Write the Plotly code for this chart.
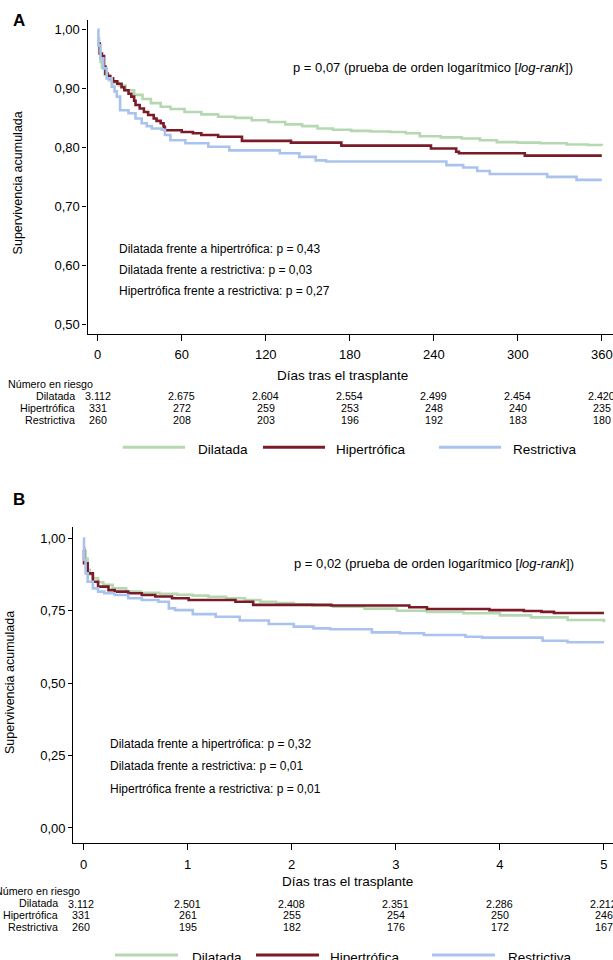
import plotly.graph_objects as go

# ---------------- DATA ----------------
series_names = ["Dilatada", "Hipertrófica", "Restrictiva"]
series_colors = ["#b5d8b0", "#7a1b27", "#a9c3ee"]

# Panel A (days, 0-360)
dil_a_days = [0, 1, 2, 3, 5, 8, 11, 15, 20, 26, 32, 38, 45, 52, 62, 74, 86, 98, 110, 122, 134, 146, 157, 168,
              181, 195, 209, 220, 230, 245, 260, 273, 285, 300, 316, 335, 350, 360]
dil_a_surv = [0.985, 0.96, 0.945, 0.935, 0.923, 0.914, 0.909, 0.905, 0.897, 0.889, 0.882, 0.875, 0.869, 0.865,
              0.860, 0.856, 0.852, 0.850, 0.846, 0.843, 0.839, 0.836, 0.832, 0.830, 0.828, 0.827, 0.826, 0.824,
              0.819, 0.817, 0.815, 0.812, 0.809, 0.808, 0.807, 0.805, 0.804, 0.803]
hip_a_days = [0, 1.5, 3, 4.5, 5.5, 7, 9, 11, 14, 17, 19, 22, 24, 26, 27, 30, 33, 36, 40, 42, 45, 47, 48, 60, 68,
              74, 86, 103, 138, 174, 238, 256, 258, 305, 360]
hip_a_surv = [0.976, 0.959, 0.955, 0.937, 0.925, 0.921, 0.917, 0.912, 0.908, 0.902, 0.897, 0.891, 0.886, 0.879,
              0.872, 0.866, 0.860, 0.855, 0.849, 0.845, 0.841, 0.835, 0.829, 0.826, 0.824, 0.821, 0.818, 0.811,
              0.808, 0.803, 0.798, 0.7925, 0.790, 0.786, 0.786]
res_a_days = [0, 0.5, 2, 4, 6.4, 10, 12, 13.6, 16, 22, 27, 31.4, 35, 38.6, 45.7, 48, 51.9, 62.6, 79, 94, 130, 144,
              155.7, 163, 249, 261, 271, 280, 321, 342, 360]
res_a_surv = [1.0, 0.973, 0.951, 0.934, 0.917, 0.903, 0.895, 0.886, 0.863, 0.858, 0.849, 0.841, 0.836, 0.832,
              0.830, 0.821, 0.812, 0.807, 0.801, 0.795, 0.790, 0.784, 0.778, 0.776, 0.770, 0.766, 0.760, 0.755,
              0.750, 0.745, 0.745]

# Panel B (years, 0-5)
dil_b_years = [0, 0.01, 0.02, 0.04, 0.06, 0.09, 0.14, 0.19, 0.28, 0.41, 0.55, 0.73, 0.9, 1.05, 1.2, 1.37, 1.55,
               1.70, 1.85, 2.02, 2.2, 2.4, 2.7, 3.01, 3.3, 3.65, 4.0, 4.3, 4.65, 5.0]
dil_b_surv = [0.965, 0.955, 0.93, 0.891, 0.875, 0.862, 0.848, 0.839, 0.827, 0.816, 0.812, 0.808, 0.805, 0.802,
              0.798, 0.793, 0.787, 0.781, 0.776, 0.772, 0.768, 0.764, 0.757, 0.750, 0.746, 0.741, 0.734, 0.727,
              0.718, 0.710]
hip_b_years = [0, 0.005, 0.04, 0.09, 0.14, 0.24, 0.30, 0.43, 0.56, 0.69, 0.85, 1.01, 1.46, 1.63, 2.38, 3.13, 3.3,
               3.9, 4.23, 4.4, 4.52, 5.0]
hip_b_surv = [0.96, 0.914, 0.879, 0.850, 0.833, 0.821, 0.816, 0.810, 0.804, 0.799, 0.793, 0.787, 0.781, 0.770,
              0.768, 0.762, 0.756, 0.752, 0.749, 0.746, 0.742, 0.742]
res_b_years = [0, 0.005, 0.02, 0.04, 0.09, 0.14, 0.20, 0.30, 0.43, 0.56, 0.72, 0.82, 0.88, 1.05, 1.27, 1.50, 1.78,
               2.02, 2.21, 2.37, 2.77, 3.04, 3.27, 3.67, 3.83, 4.41, 4.65, 5.0]
res_b_surv = [1.0, 0.925, 0.879, 0.850, 0.827, 0.816, 0.810, 0.804, 0.793, 0.787, 0.781, 0.758, 0.752, 0.738,
              0.729, 0.716, 0.704, 0.695, 0.689, 0.686, 0.675, 0.672, 0.666, 0.660, 0.657, 0.646, 0.641, 0.641]

# Axis ticks
a_xticks = [0, 60, 120, 180, 240, 300, 360]
a_yticks = [0.5, 0.6, 0.7, 0.8, 0.9, 1.0]
b_xticks = [0, 1, 2, 3, 4, 5]
b_yticks = [0.0, 0.25, 0.5, 0.75, 1.0]

# Numbers at risk
risk_a_dil = ["3.112", "2.675", "2.604", "2.554", "2.499", "2.454", "2.420"]
risk_a_hip = ["331", "272", "259", "253", "248", "240", "235"]
risk_a_res = ["260", "208", "203", "196", "192", "183", "180"]
risk_b_dil = ["3.112", "2.501", "2.408", "2.351", "2.286", "2.212"]
risk_b_hip = ["331", "261", "255", "254", "250", "246"]
risk_b_res = ["260", "195", "182", "176", "172", "167"]

pval_a = "p = 0,07 (prueba de orden logarítmico [<i>log-rank</i>])"
pval_b = "p = 0,02 (prueba de orden logarítmico [<i>log-rank</i>])"
comp_a = ["Dilatada frente a hipertrófica: p = 0,43",
          "Dilatada frente a restrictiva: p = 0,03",
          "Hipertrófica frente a restrictiva: p = 0,27"]
comp_b = ["Dilatada frente a hipertrófica: p = 0,32",
          "Dilatada frente a restrictiva: p = 0,01",
          "Hipertrófica frente a restrictiva: p = 0,01"]

# ---------------- FIGURE ----------------
W, H = 613, 960
FONT = "Liberation Sans, Arial, Helvetica, sans-serif"


def X(px):
    return px / W


def Y(py):
    return 1 - py / H


fig = go.Figure()

panel_a = [(dil_a_days, dil_a_surv), (hip_a_days, hip_a_surv), (res_a_days, res_a_surv)]
panel_b = [(dil_b_years, dil_b_surv), (hip_b_years, hip_b_surv), (res_b_years, res_b_surv)]

for (xs, ys), name, col in zip(panel_a, series_names, series_colors):
    fig.add_trace(go.Scatter(x=xs, y=ys, mode="lines", line=dict(shape="hv", color=col, width=2.6),
                             name=name, showlegend=False, xaxis="x", yaxis="y"))
for (xs, ys), name, col in zip(panel_b, series_names, series_colors):
    fig.add_trace(go.Scatter(x=xs, y=ys, mode="lines", line=dict(shape="hv", color=col, width=2.6),
                             name=name, showlegend=False, xaxis="x2", yaxis="y2"))

axis_common = dict(showline=True, linecolor="black", linewidth=1.3, ticks="outside", tickcolor="black",
                   tickwidth=1.3, showgrid=False, zeroline=False, tickfont=dict(size=13, color="black"))

fig.update_layout(
    width=W, height=H, margin=dict(l=0, r=0, t=0, b=0),
    paper_bgcolor="white", plot_bgcolor="white",
    font=dict(family=FONT, color="black"),
    separators=",.",
    showlegend=False,
    xaxis=dict(domain=[X(87.5), 1], range=[-7.3, 368], tickvals=a_xticks, anchor="y", ticklen=6,
               ticklabelstandoff=2, **axis_common),
    yaxis=dict(domain=[Y(334), Y(20)], range=[0.4836, 1.016], tickvals=a_yticks, tickformat=".2f",
               anchor="x", ticklen=4, ticklabelstandoff=0, **axis_common),
    xaxis2=dict(domain=[X(73.3), 1], range=[-0.098, 5.087], tickvals=b_xticks, anchor="y2", ticklen=6,
                ticklabelstandoff=3, **axis_common),
    yaxis2=dict(domain=[Y(843), Y(526.7)], range=[-0.052, 1.04], tickvals=b_yticks, tickformat=".2f",
                anchor="x2", ticklen=4, ticklabelstandoff=0, **axis_common),
)

ann = []


def text(x, y, s, size, xanchor="left", **kw):
    ann.append(dict(x=X(x), y=Y(y), xref="paper", yref="paper", text=s, showarrow=False,
                    xanchor=xanchor, yanchor="middle", font=dict(size=size, family=FONT, color="black"), **kw))


# Panel letters
text(11, 21, "<b>A</b>", 17)
text(11, 499, "<b>B</b>", 17)

# p-values
text(291, 67, pval_a, 13)
text(292, 563, pval_b, 13)
for s, yy in zip(comp_a, [249, 270, 291]):
    text(117, yy, s, 12)
for s, yy in zip(comp_b, [744, 766, 789]):
    text(108, yy, s, 12)

# Axis titles
text(18.4, 183, "Supervivencia acumulada", 12.5, xanchor="center", textangle=-90)
text(10, 683, "Supervivencia acumulada", 12.5, xanchor="center", textangle=-90)
text(342, 375, "Días tras el trasplante", 13.5, xanchor="center")
text(347, 881, "Días tras el trasplante", 13.5, xanchor="center")

# Numbers at risk
text(6, 384, "Número en riesgo", 10.7)
text(-7.5, 890.7, "Número en riesgo", 10.7)
for lab, yy in zip(series_names, [395.5, 407.7, 420]):
    text(77, yy, lab, 10.7, xanchor="right")
for lab, yy in zip(series_names, [903.3, 915, 926.7]):
    text(60, yy, lab, 10.7, xanchor="right")

for row, yy in zip([risk_a_dil, risk_a_hip, risk_a_res], [396, 408, 420]):
    for xv, v in zip(a_xticks, row):
        ann.append(dict(x=xv, y=Y(yy), xref="x", yref="paper", text=v, showarrow=False, xanchor="center",
                        yanchor="middle", font=dict(size=10.7, family=FONT, color="black")))
for row, yy in zip([risk_b_dil, risk_b_hip, risk_b_res], [903.5, 915, 926.7]):
    for xv, v in zip(b_xticks, row):
        ann.append(dict(x=xv, y=Y(yy), xref="x2", yref="paper", text=v, showarrow=False, xanchor="center",
                        yanchor="middle", font=dict(size=10.7, family=FONT, color="black"),
                        xshift=-3 if xv == 0 else 0))

# Legends (manual)
shapes = []
leg_a = [(122.7, 185, 195.5), (263, 325, 334), (439, 501, 511)]
leg_b = [(115, 178, 190), (256, 319, 328), (432, 495, 505.5)]
for (x0, x1, tx), name, col in zip(leg_a, series_names, series_colors):
    shapes.append(dict(type="line", xref="paper", yref="paper", x0=X(x0), x1=X(x1), y0=Y(447.3), y1=Y(447.3),
                       line=dict(color=col, width=3)))
    text(tx, 449, name, 13.5)
for (x0, x1, tx), name, col in zip(leg_b, series_names, series_colors):
    shapes.append(dict(type="line", xref="paper", yref="paper", x0=X(x0), x1=X(x1), y0=Y(955), y1=Y(955),
                       line=dict(color=col, width=3)))
    text(tx, 957.5, name, 13.5)

fig.update_layout(annotations=ann, shapes=shapes)

fig.write_html("out.html",
               config={"displayModeBar": False},
               post_script="document.body.style.margin='0';document.body.style.padding='0';"
                           "document.documentElement.style.overflow='hidden';")
